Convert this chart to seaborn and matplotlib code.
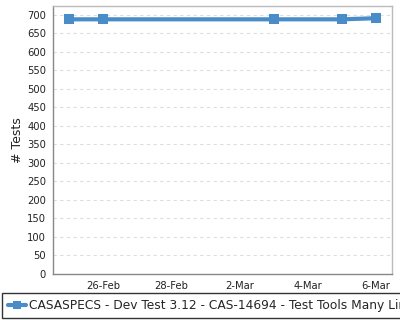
import matplotlib
matplotlib.use("Agg")
import matplotlib.pyplot as plt
import matplotlib.dates as mdates
import seaborn as sns
import pandas as pd
from matplotlib.lines import Line2D

dates = ["2015-02-25", "2015-02-26", "2015-03-03", "2015-03-05", "2015-03-06"]
tests = [688, 688, 688, 688, 691]
series_name = "CASASPECS - Dev Test 3.12 - CAS-14694 - Test Tools Many Linux Machines"
y_ticks = list(range(0, 701, 50))

df = pd.DataFrame({"date": pd.to_datetime(dates), "tests": tests, "series": series_name})

sns.set_style("white")
plt.rcParams["font.family"] = ["DejaVu Sans"]

fig = plt.figure(figsize=(4, 3.2), dpi=100)
ax = fig.add_axes([53/400, 1 - 274/320, (392-53)/400, (274-6)/320])

color = "#4a8cc8"
sns.lineplot(data=df, x="date", y="tests", hue="series", palette=[color], ax=ax,
             marker="s", markersize=7, markeredgewidth=0, linewidth=3, legend=False)

ax.set_ylim(0, 724)
ax.set_yticks(y_ticks)
ax.set_xlim(pd.Timestamp("2015-02-24 12:40"), pd.Timestamp("2015-03-06 11:20"))
ax.xaxis.set_major_locator(mdates.DayLocator(bymonthday=[26, 28, 2, 4, 6]))
ax.xaxis.set_major_formatter(mdates.DateFormatter("%-d-%b"))

ax.yaxis.grid(True, linestyle=(0, (3, 3)), color="#dddddd", linewidth=0.8)
ax.xaxis.grid(False)
ax.set_xlabel("")
ax.set_ylabel("# Tests", fontsize=9, color="#222222", labelpad=2)
ax.tick_params(axis="both", labelsize=7.2, length=3, width=0.8, colors="#888888", labelcolor="#222222", pad=2)
for s in ["left", "bottom"]:
    ax.spines[s].set_color("#888888")
    ax.spines[s].set_linewidth(1)
for s in ["top", "right"]:
    ax.spines[s].set_color("#bbbbbb")
    ax.spines[s].set_linewidth(1)

handle = Line2D([], [], color=color, marker="s", markersize=6, markeredgewidth=0, linewidth=3)
leg = fig.legend([handle], [series_name], loc="lower left", bbox_to_anchor=(2/400, 2/320),
                 frameon=True, fancybox=False, fontsize=8.8, handlelength=1.5, handletextpad=0.2,
                 borderpad=0.5, borderaxespad=0)
leg.get_frame().set_edgecolor("black")
leg.get_frame().set_linewidth(1)

fig.savefig("out.png", dpi=100)
